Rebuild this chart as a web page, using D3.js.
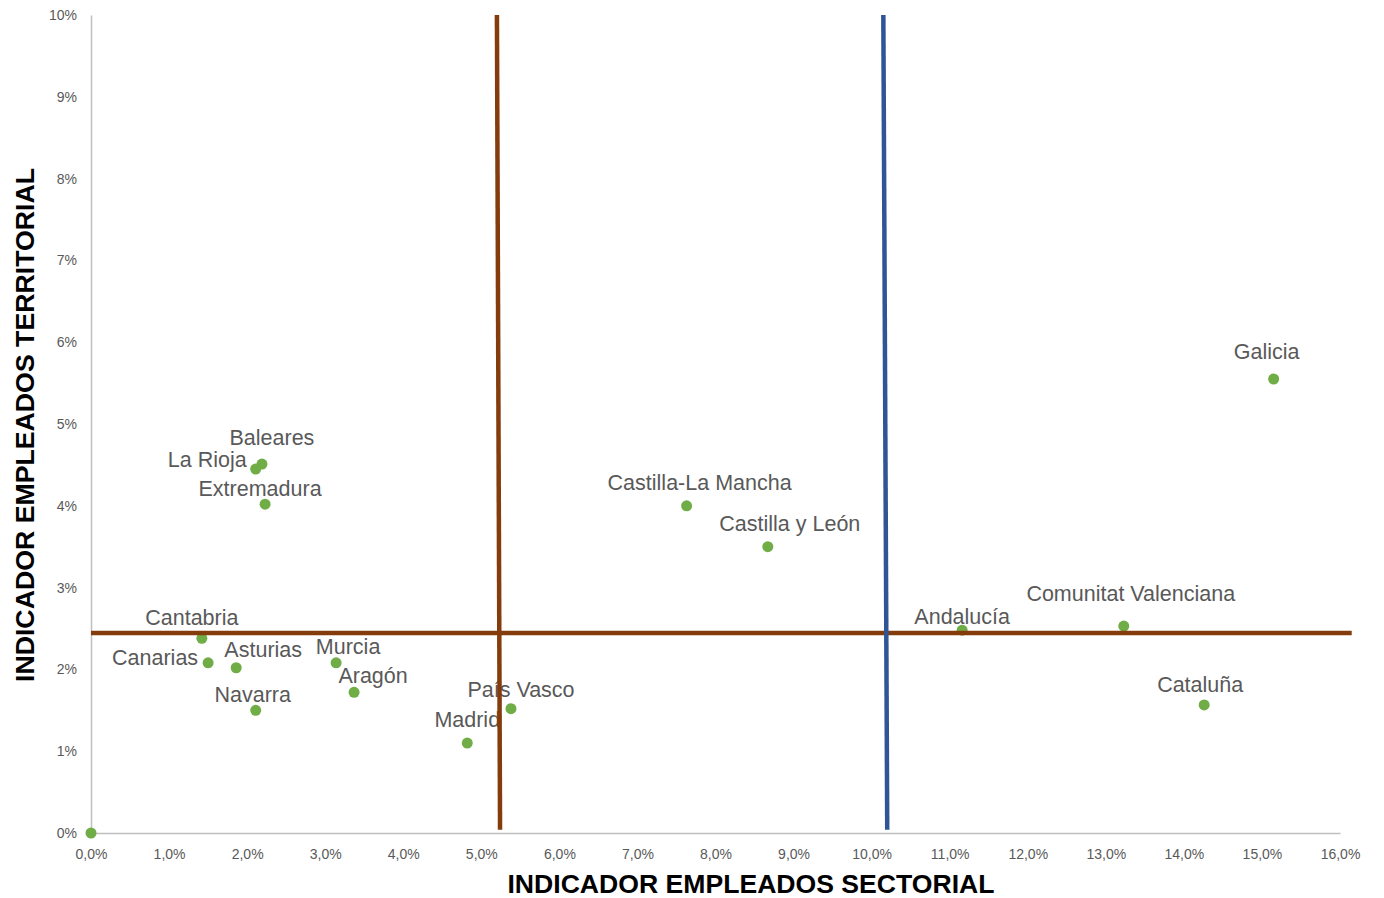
<!DOCTYPE html>
<html>
<head>
<meta charset="utf-8">
<script src="https://cdn.jsdelivr.net/npm/d3@7"></script>
<style>
  html, body { margin: 0; padding: 0; background: #fff; }
  svg { display: block; }
</style>
</head>
<body>
<svg id="chart" width="1384" height="898"></svg>
<script>
// ---- Data ----
const regions = ["Origen", "Galicia", "Baleares", "La Rioja", "Extremadura", "Castilla-La Mancha",
  "Castilla y León", "Andalucía", "Comunitat Valenciana", "Cataluña", "Cantabria", "Canarias",
  "Asturias", "Murcia", "Aragón", "Navarra", "País Vasco", "Madrid"];
const sectorial = [0.0, 15.15, 2.19, 2.11, 2.23, 7.63, 8.67, 11.16, 13.23, 14.26, 1.42, 1.50, 1.86, 3.14, 3.37, 2.11, 5.38, 4.82];
const territorial = [0.0, 5.55, 4.51, 4.45, 4.02, 4.00, 3.50, 2.48, 2.53, 1.565, 2.38, 2.08, 2.02, 2.08, 1.72, 1.50, 1.52, 1.10];
const xTicks = [0, 1, 2, 3, 4, 5, 6, 7, 8, 9, 10, 11, 12, 13, 14, 15, 16];
const yTicks = [0, 1, 2, 3, 4, 5, 6, 7, 8, 9, 10];
// Reference lines (x, y in %)
const brownVertical = [[5.20, 10], [5.24, 0.04]];
const blueVertical = [[10.15, 10], [10.20, 0.04]];
const brownHorizontal = [[0, 2.445], [16.15, 2.445]];

// ---- Label placement (pixel offsets, anchor) ----
const labelPlacement = {
  "Galicia": [-7, -20, "middle"],
  "Baleares": [10, -19, "middle"],
  "La Rioja": [-9, -2, "end"],
  "Extremadura": [-5, -8, "middle"],
  "Castilla-La Mancha": [13, -16, "middle"],
  "Castilla y León": [22, -16, "middle"],
  "Andalucía": [0, -6, "middle"],
  "Comunitat Valenciana": [7, -25, "middle"],
  "Cataluña": [-4, -13, "middle"],
  "Cantabria": [-10, -13, "middle"],
  "Canarias": [-10, 2, "end"],
  "Asturias": [27, -11, "middle"],
  "Murcia": [12, -9, "middle"],
  "Aragón": [19, -9, "middle"],
  "Navarra": [-3, -8, "middle"],
  "País Vasco": [10, -12, "middle"],
  "Madrid": [0, -16, "middle"]
};

const svg = d3.select("#chart");
const x = d3.scaleLinear().domain([0, 16]).range([91, 1340]);
const y = d3.scaleLinear().domain([0, 10]).range([833, 15]);

const fmtX = d => d.toFixed(1).replace(".", ",") + "%";
const fmtY = d => d + "%";

// Axes
const xAxis = svg.append("g").attr("transform", `translate(0,${y(0)})`)
  .call(d3.axisBottom(x).tickValues(xTicks).tickFormat(fmtX).tickSize(0).tickPadding(16));
const yAxis = svg.append("g").attr("transform", `translate(${x(0)},0)`)
  .call(d3.axisLeft(y).tickValues(yTicks).tickFormat(fmtY).tickSize(0).tickPadding(14));
[xAxis, yAxis].forEach(g => {
  g.select(".domain").attr("stroke", "#bfbfbf").attr("stroke-width", 1.5);
  g.selectAll("text").attr("fill", "#595959").attr("font-family", "'Liberation Sans', Arial, sans-serif").attr("font-size", 14);
});

// Points
const pts = regions.map((r, i) => ({ name: r, sx: sectorial[i], ty: territorial[i] }));
svg.append("g").selectAll("circle").data(pts).join("circle")
  .attr("cx", d => x(d.sx)).attr("cy", d => y(d.ty)).attr("r", 5.5)
  .attr("fill", "#70AD47");

// Labels
svg.append("g").selectAll("text").data(pts.filter(d => labelPlacement[d.name])).join("text")
  .attr("x", d => x(d.sx) + labelPlacement[d.name][0])
  .attr("y", d => y(d.ty) + labelPlacement[d.name][1])
  .attr("text-anchor", d => labelPlacement[d.name][2])
  .attr("font-family", "'Liberation Sans', Arial, sans-serif")
  .attr("font-size", 21.5)
  .attr("fill", "#595959")
  .text(d => d.name);

// Reference lines
const line = d3.line().x(d => x(d[0])).y(d => y(d[1]));
svg.append("path").attr("d", line(brownHorizontal)).attr("stroke", "#843C0C").attr("stroke-width", 4.5).attr("fill", "none");
svg.append("path").attr("d", line(brownVertical)).attr("stroke", "#843C0C").attr("stroke-width", 4.5).attr("fill", "none");
svg.append("path").attr("d", line(blueVertical)).attr("stroke", "#2F5597").attr("stroke-width", 4.5).attr("fill", "none");

// Axis titles
svg.append("text").attr("x", 751).attr("y", 893).attr("text-anchor", "middle")
  .attr("font-family", "'Liberation Sans', Arial, sans-serif").attr("font-weight", "bold")
  .attr("font-size", 26.6).attr("fill", "#000")
  .text("INDICADOR  EMPLEADOS SECTORIAL");
svg.append("text").attr("transform", "translate(34,425) rotate(-90)").attr("text-anchor", "middle")
  .attr("font-family", "'Liberation Sans', Arial, sans-serif").attr("font-weight", "bold")
  .attr("font-size", 26.7).attr("fill", "#000")
  .text("INDICADOR EMPLEADOS TERRITORIAL");
</script>
</body>
</html>
